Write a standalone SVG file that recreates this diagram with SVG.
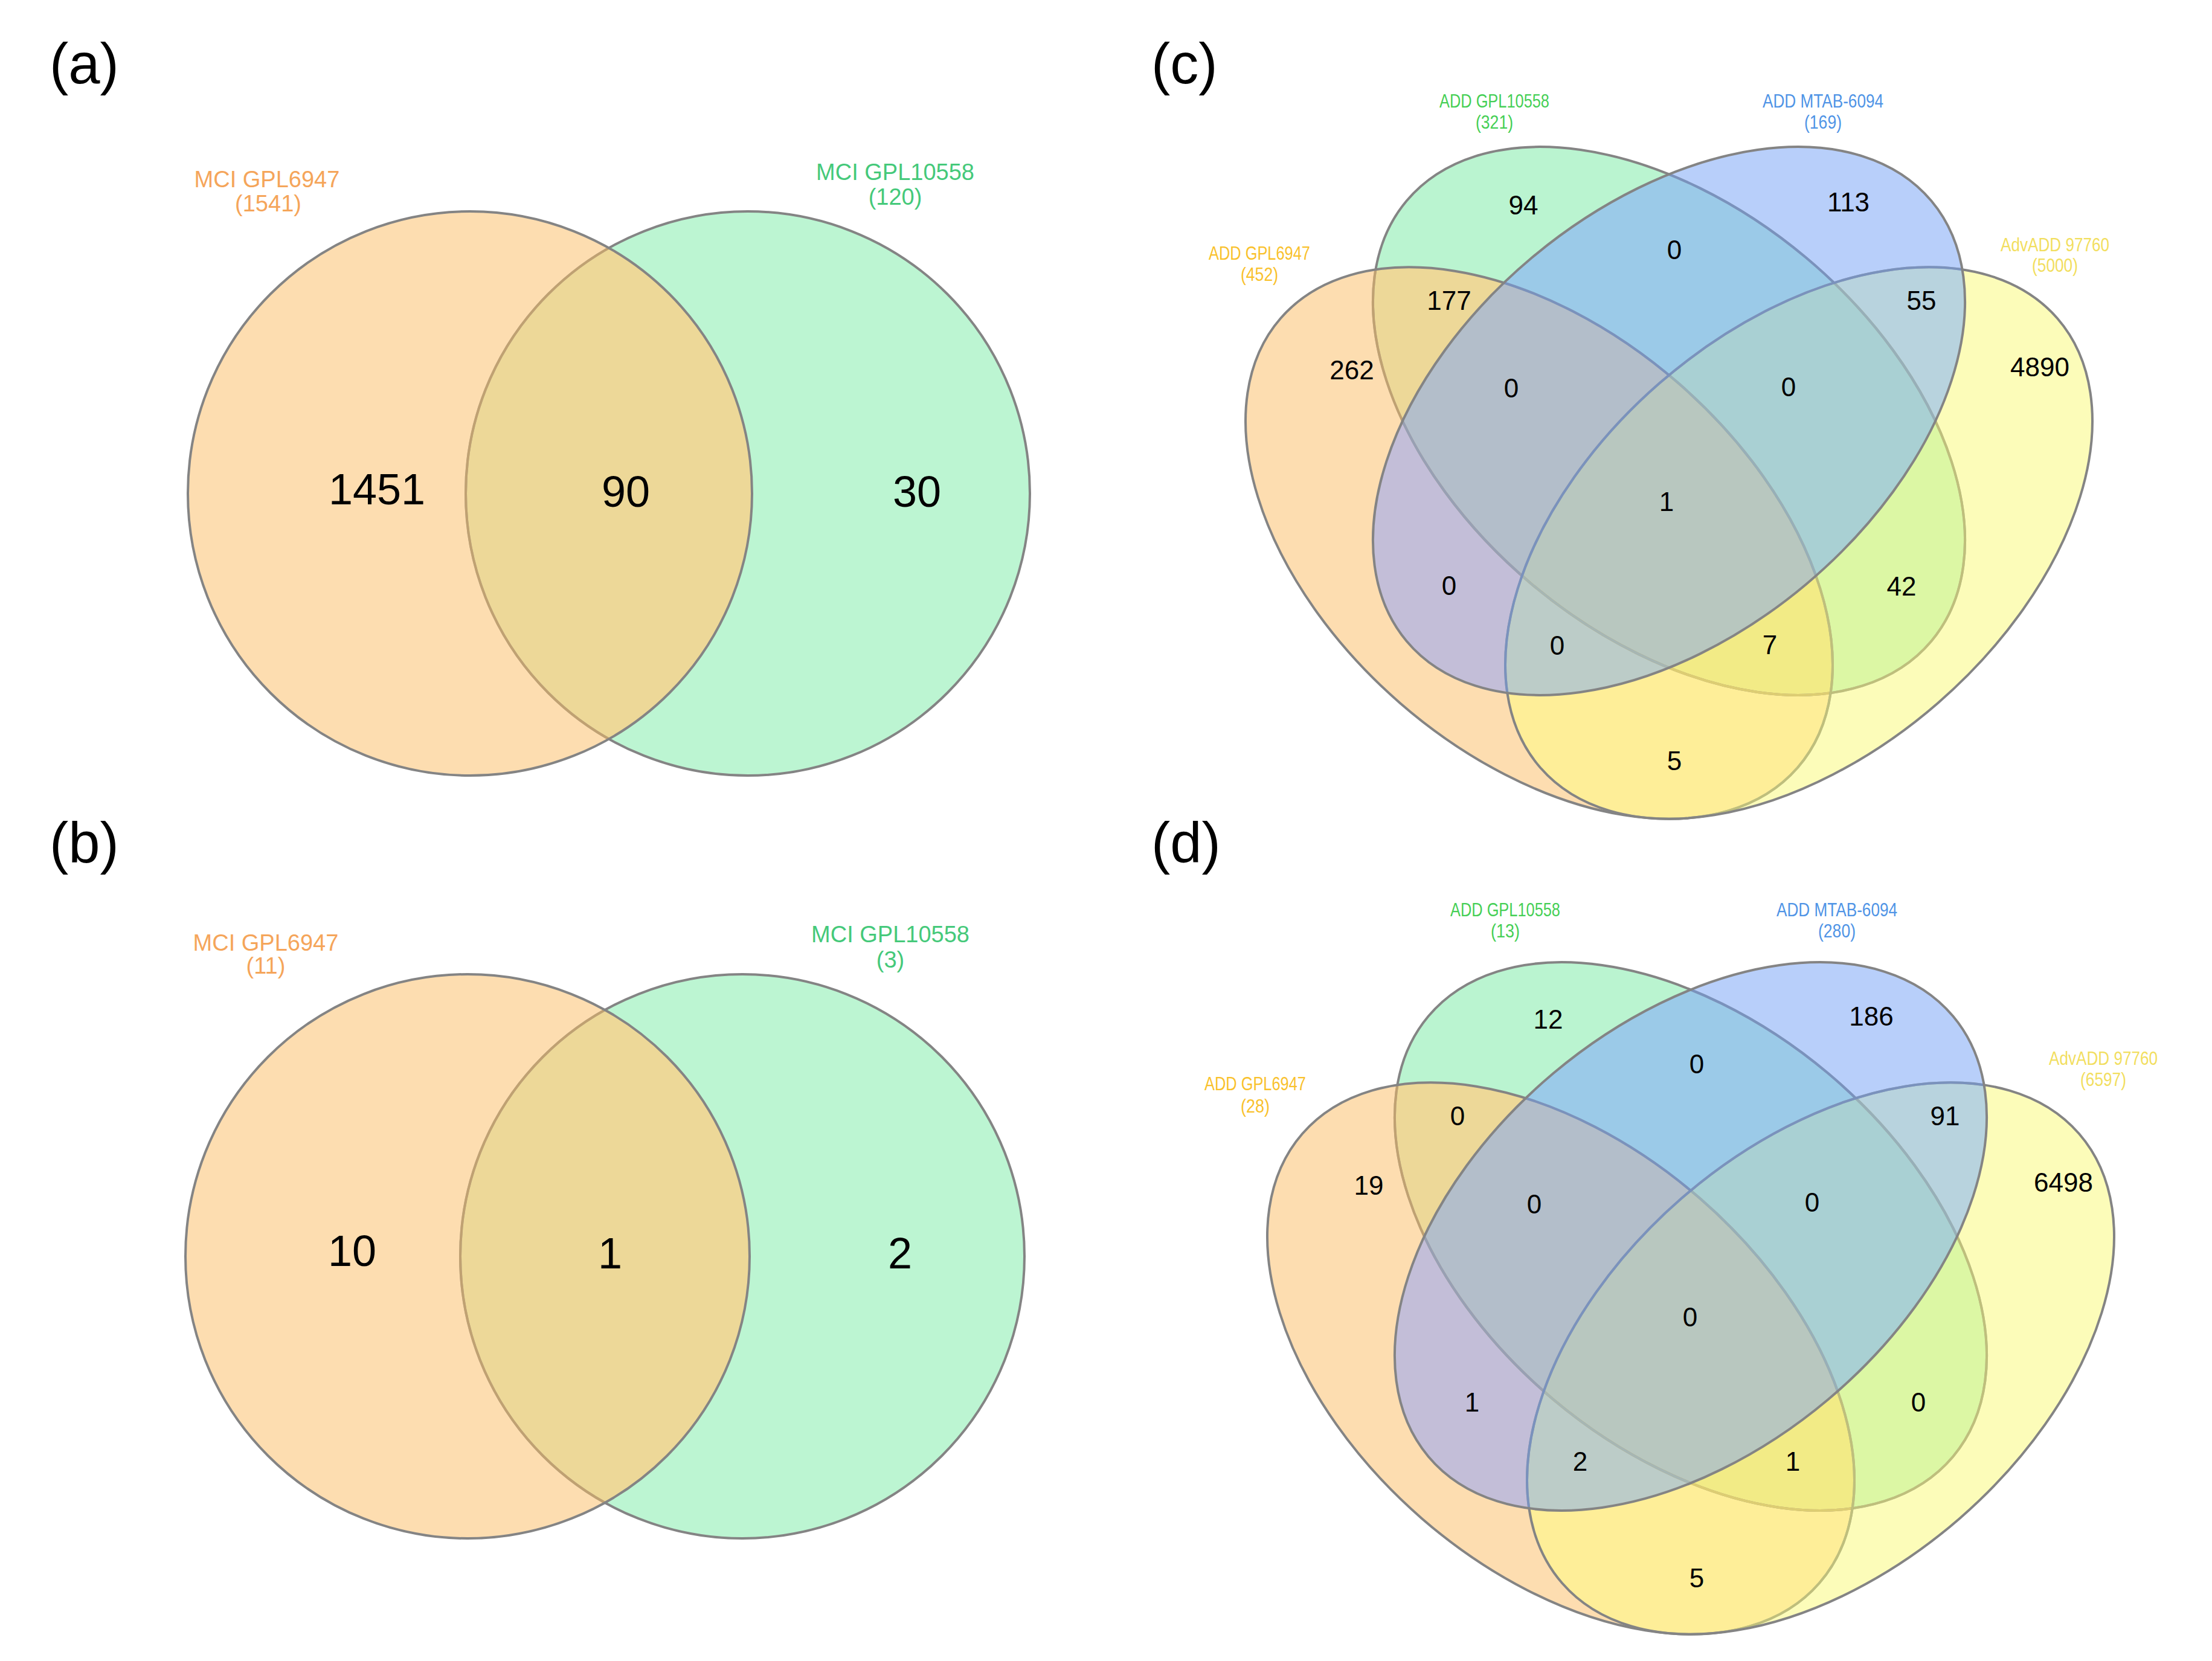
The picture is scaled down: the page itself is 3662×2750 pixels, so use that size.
<svg xmlns="http://www.w3.org/2000/svg" width="3662" height="2750" viewBox="0 0 3662 2750">
<style>
.panel{font-family:"Liberation Sans",Arial,sans-serif;font-size:94px;fill:#000}
.num{font-family:"Liberation Sans",Arial,sans-serif;fill:#000;text-anchor:middle}
.n2{font-size:72px}
.n4{font-size:44px}
.lab2{font-family:"Liberation Sans",Arial,sans-serif;font-size:38px;text-anchor:middle}
.lab4{font-family:"Liberation Sans Narrow","Liberation Sans",Arial,sans-serif;font-size:31px;text-anchor:middle}
.outline{fill:none;stroke:#848484;stroke-width:4}
.tA{fill:none;stroke:#FBBD5F;stroke-opacity:0.5;stroke-width:4}
.tC{fill:none;stroke:#6F9FF5;stroke-opacity:0.5;stroke-width:4}
.tD{fill:none;stroke:#F9F973;stroke-opacity:0.5;stroke-width:4}
.orange2{fill:#F5A55A}
.green2{fill:#45C97A}
.gA{fill:#F9C12C}
.gB{fill:#45CF55}
.gC{fill:#4F94E6}
.gD{fill:#F2DE5E}
</style>
<defs>
  <circle id="a1" cx="778" cy="817" r="467"/>
  <circle id="a2" cx="1238" cy="817" r="467"/>
  <clipPath id="ca1"><use href="#a1"/></clipPath>
  <circle id="b1" cx="774" cy="2080" r="467"/>
  <circle id="b2" cx="1229" cy="2080" r="467"/>
  <clipPath id="cb1"><use href="#b1"/></clipPath>
  <ellipse id="eA" cx="2548" cy="899" rx="567" ry="351" transform="rotate(41 2548 899)"/>
  <ellipse id="eB" cx="2763" cy="697" rx="567" ry="353" transform="rotate(40 2763 697)"/>
  <ellipse id="eC" cx="2763" cy="697" rx="567" ry="353" transform="rotate(-40 2763 697)"/>
  <ellipse id="eD" cx="2978" cy="899" rx="567" ry="351" transform="rotate(-41 2978 899)"/>
  <clipPath id="cA"><use href="#eA"/></clipPath>
  <clipPath id="cB"><use href="#eB"/></clipPath>
  <clipPath id="cC"><use href="#eC"/></clipPath>
  <clipPath id="cD"><use href="#eD"/></clipPath>
  <g id="venn4fill">
    <use href="#eA" fill="#FDDDB0"/>
    <use href="#eB" fill="#BAF4D0"/>
    <use href="#eC" fill="#B8CFFA"/>
    <use href="#eD" fill="#FCFCB9"/>
    <use href="#eB" clip-path="url(#cA)" fill="#EDD898"/>
    <use href="#eC" clip-path="url(#cA)" fill="#C3BED8"/>
    <use href="#eD" clip-path="url(#cA)" fill="#FEEE98"/>
    <use href="#eC" clip-path="url(#cB)" fill="#9BCAE8"/>
    <use href="#eD" clip-path="url(#cB)" fill="#DCF7A4"/>
    <use href="#eD" clip-path="url(#cC)" fill="#B8D3DE"/>
    <g clip-path="url(#cA)"><use href="#eC" clip-path="url(#cB)" fill="#B3BECA"/></g>
    <g clip-path="url(#cA)"><use href="#eD" clip-path="url(#cB)" fill="#F2EB86"/></g>
    <g clip-path="url(#cA)"><use href="#eD" clip-path="url(#cC)" fill="#BCCCC8"/></g>
    <g clip-path="url(#cB)"><use href="#eD" clip-path="url(#cC)" fill="#A9D0D3"/></g>
    <g clip-path="url(#cA)"><g clip-path="url(#cB)"><use href="#eC" clip-path="url(#cD)" fill="#B8C7BF"/></g></g>
  </g>
</defs>
<rect x="0" y="0" width="3662" height="2750" fill="#ffffff"/>

<!-- Panel (a) -->
<g id="panel-a">
  <text class="panel" x="82" y="138">(a)</text>
  <g id="a-regions">
    <use href="#a1" fill="#FDDDB0"/>
    <use href="#a2" fill="#BCF5D2"/>
    <use href="#a2" clip-path="url(#ca1)" fill="#EDD898"/>
  </g>
  <g id="a-set-GPL10558">
    <use href="#a2" class="outline"/>
    <use href="#a2" class="tA" clip-path="url(#ca1)"/>
    <text class="lab2 green2" x="1482" y="298">MCI GPL10558</text>
    <text class="lab2 green2" x="1482" y="339">(120)</text>
  </g>
  <g id="a-set-GPL6947">
    <use href="#a1" class="outline"/>
    <text class="lab2 orange2" x="442" y="310">MCI GPL6947</text>
    <text class="lab2 orange2" x="444" y="350">(1541)</text>
  </g>
  <g id="a-counts">
    <text class="num n2" x="624" y="835">1451</text>
    <text class="num n2" x="1036" y="839">90</text>
    <text class="num n2" x="1518" y="839">30</text>
  </g>
</g>

<!-- Panel (b) -->
<g id="panel-b">
  <text class="panel" x="82" y="1428">(b)</text>
  <g id="b-regions">
    <use href="#b1" fill="#FDDDB0"/>
    <use href="#b2" fill="#BCF5D2"/>
    <use href="#b2" clip-path="url(#cb1)" fill="#EDD898"/>
  </g>
  <g id="b-set-GPL10558">
    <use href="#b2" class="outline"/>
    <use href="#b2" class="tA" clip-path="url(#cb1)"/>
    <text class="lab2 green2" x="1474" y="1560">MCI GPL10558</text>
    <text class="lab2 green2" x="1474" y="1602">(3)</text>
  </g>
  <g id="b-set-GPL6947">
    <use href="#b1" class="outline"/>
    <text class="lab2 orange2" x="440" y="1574">MCI GPL6947</text>
    <text class="lab2 orange2" x="440" y="1612">(11)</text>
  </g>
  <g id="b-counts">
    <text class="num n2" x="583" y="2096">10</text>
    <text class="num n2" x="1010" y="2100">1</text>
    <text class="num n2" x="1490" y="2100">2</text>
  </g>
</g>

<!-- Panel (c) -->
<g id="panel-c">
  <text class="panel" x="1906" y="138">(c)</text>
  <g id="c-regions"><use href="#venn4fill"/></g>
  <g id="c-set-GPL10558">
    <use href="#eB" class="outline"/>
    <use href="#eB" class="tA" clip-path="url(#cA)"/>
    <use href="#eB" class="tD" clip-path="url(#cD)"/>
    <use href="#eB" class="tC" clip-path="url(#cC)"/>
    <text class="lab4 gB" x="2474" y="178" textLength="182" lengthAdjust="spacingAndGlyphs">ADD GPL10558</text>
    <text class="lab4 gB" x="2474" y="213" textLength="62" lengthAdjust="spacingAndGlyphs">(321)</text>
  </g>
  <g id="c-set-GPL6947">
    <use href="#eA" class="outline"/>
    <use href="#eA" class="tD" clip-path="url(#cD)"/>
    <use href="#eA" class="tC" clip-path="url(#cC)"/>
    <text class="lab4 gA" x="2085" y="430" textLength="168" lengthAdjust="spacingAndGlyphs">ADD GPL6947</text>
    <text class="lab4 gA" x="2085" y="465" textLength="62" lengthAdjust="spacingAndGlyphs">(452)</text>
  </g>
  <g id="c-set-97760">
    <use href="#eD" class="outline"/>
    <use href="#eD" class="tC" clip-path="url(#cC)"/>
    <text class="lab4 gD" x="3402" y="416" textLength="180" lengthAdjust="spacingAndGlyphs">AdvADD 97760</text>
    <text class="lab4 gD" x="3402" y="450" textLength="76" lengthAdjust="spacingAndGlyphs">(5000)</text>
  </g>
  <g id="c-set-MTAB6094">
    <use href="#eC" class="outline"/>
    <text class="lab4 gC" x="3018" y="178" textLength="200" lengthAdjust="spacingAndGlyphs">ADD MTAB-6094</text>
    <text class="lab4 gC" x="3018" y="213" textLength="62" lengthAdjust="spacingAndGlyphs">(169)</text>
  </g>
  <g id="c-counts">
    <text class="num n4" x="2522" y="355">94</text>
    <text class="num n4" x="3060" y="350">113</text>
    <text class="num n4" x="2772" y="429">0</text>
    <text class="num n4" x="2399" y="513">177</text>
    <text class="num n4" x="3181" y="513">55</text>
    <text class="num n4" x="2238" y="628">262</text>
    <text class="num n4" x="3377" y="623">4890</text>
    <text class="num n4" x="2502" y="658">0</text>
    <text class="num n4" x="2961" y="656">0</text>
    <text class="num n4" x="2759" y="846">1</text>
    <text class="num n4" x="2399" y="985">0</text>
    <text class="num n4" x="3148" y="986">42</text>
    <text class="num n4" x="2578" y="1084">0</text>
    <text class="num n4" x="2930" y="1083">7</text>
    <text class="num n4" x="2772" y="1275">5</text>
  </g>
</g>

<!-- Panel (d) -->
<g id="panel-d">
  <text class="panel" x="1906" y="1428">(d)</text>
  <g transform="translate(36,1350)">
    <g id="d-regions"><use href="#venn4fill"/></g>
    <g id="d-set-GPL10558">
      <use href="#eB" class="outline"/>
      <use href="#eB" class="tA" clip-path="url(#cA)"/>
      <use href="#eB" class="tD" clip-path="url(#cD)"/>
      <use href="#eB" class="tC" clip-path="url(#cC)"/>
    </g>
    <g id="d-set-GPL6947">
      <use href="#eA" class="outline"/>
      <use href="#eA" class="tD" clip-path="url(#cD)"/>
      <use href="#eA" class="tC" clip-path="url(#cC)"/>
    </g>
    <g id="d-set-97760">
      <use href="#eD" class="outline"/>
      <use href="#eD" class="tC" clip-path="url(#cC)"/>
    </g>
    <g id="d-set-MTAB6094"><use href="#eC" class="outline"/></g>
  </g>
  <g id="d-labels">
    <text class="lab4 gB" x="2492" y="1517" textLength="182" lengthAdjust="spacingAndGlyphs">ADD GPL10558</text>
    <text class="lab4 gB" x="2492" y="1552" textLength="48" lengthAdjust="spacingAndGlyphs">(13)</text>
    <text class="lab4 gC" x="3041" y="1517" textLength="200" lengthAdjust="spacingAndGlyphs">ADD MTAB-6094</text>
    <text class="lab4 gC" x="3041" y="1552" textLength="62" lengthAdjust="spacingAndGlyphs">(280)</text>
    <text class="lab4 gA" x="2078" y="1805" textLength="168" lengthAdjust="spacingAndGlyphs">ADD GPL6947</text>
    <text class="lab4 gA" x="2078" y="1842" textLength="48" lengthAdjust="spacingAndGlyphs">(28)</text>
    <text class="lab4 gD" x="3482" y="1763" textLength="180" lengthAdjust="spacingAndGlyphs">AdvADD 97760</text>
    <text class="lab4 gD" x="3482" y="1798" textLength="76" lengthAdjust="spacingAndGlyphs">(6597)</text>
  </g>
  <g id="d-counts">
    <text class="num n4" x="2563" y="1703">12</text>
    <text class="num n4" x="3098" y="1698">186</text>
    <text class="num n4" x="2809" y="1777">0</text>
    <text class="num n4" x="2413" y="1863">0</text>
    <text class="num n4" x="3220" y="1863">91</text>
    <text class="num n4" x="2266" y="1978">19</text>
    <text class="num n4" x="3416" y="1973">6498</text>
    <text class="num n4" x="2540" y="2009">0</text>
    <text class="num n4" x="3000" y="2006">0</text>
    <text class="num n4" x="2798" y="2196">0</text>
    <text class="num n4" x="2437" y="2337">1</text>
    <text class="num n4" x="3176" y="2337">0</text>
    <text class="num n4" x="2616" y="2435">2</text>
    <text class="num n4" x="2968" y="2435">1</text>
    <text class="num n4" x="2809" y="2628">5</text>
  </g>
</g>
<g id="connectors"/>
</svg>
